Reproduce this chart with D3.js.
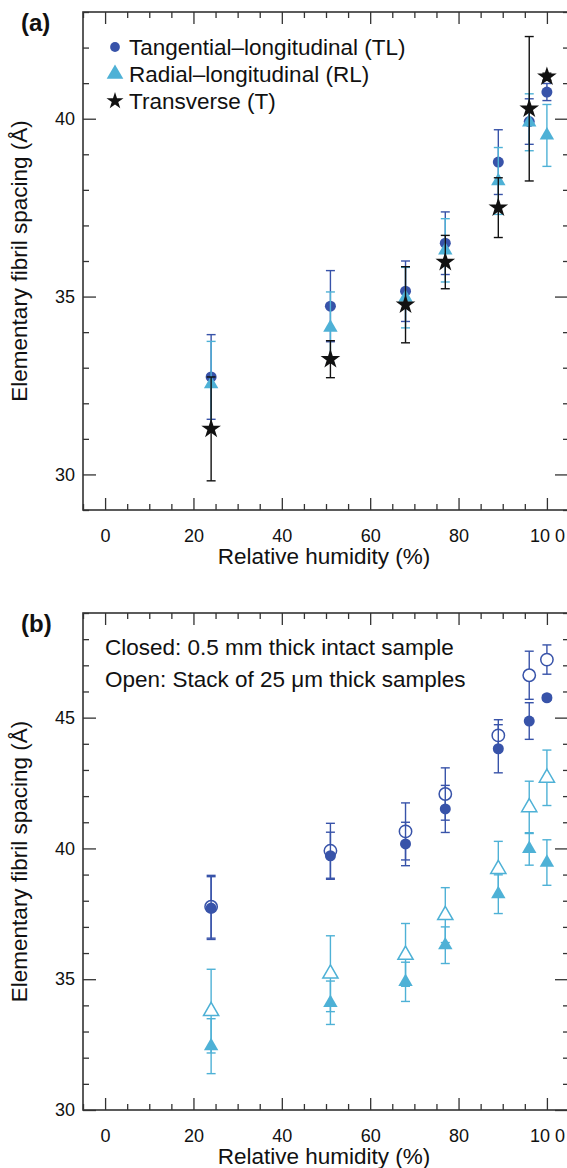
<!DOCTYPE html>
<html>
<head>
<meta charset="utf-8">
<script src="https://cdn.jsdelivr.net/npm/d3@7"></script>
<style>
  body { margin: 0; background: #fff; }
  svg { display: block; font-family: "Liberation Sans", Arial, sans-serif; }
</style>
</head>
<body>
<svg id="fig" width="567" height="1168"></svg>
<script>
// relative humidity (%) of each measurement
var rh = [24, 51, 68, 77, 89, 96, 100];

// panel (a): spacing (Angstrom) and error
var tlA    = [32.74, 34.73, 35.15, 36.50, 38.78, 39.92, 40.75];
var tlAErr = [1.19, 1.00, 0.85, 0.88, 0.91, 0.64, 0.24];
var rlA    = [32.54, 34.13, 34.97, 36.30, 38.25, 39.90, 39.53];
var rlAErr = [1.20, 1.00, 0.85, 0.89, 0.94, 0.80, 0.87];
var tA     = [31.28, 33.24, 34.77, 35.97, 37.50, 40.28, 41.18];
var tAErr  = [1.46, 0.52, 1.07, 0.75, 0.84, 2.03, 0.10];

// panel (b): closed = 0.5 mm intact, open = stack of 25 um samples
var tlClosed    = [37.72, 39.72, 40.17, 41.51, 43.81, 44.87, 45.76];
var tlClosedErr = [1.20, 0.90, 0.83, 0.90, 0.92, 0.70, 0.10];
var tlOpen      = [37.77, 39.91, 40.65, 42.08, 44.32, 46.62, 47.22];
var tlOpenErr   = [1.20, 1.05, 1.09, 1.00, 0.60, 0.92, 0.56];
var rlClosed    = [32.44, 34.10, 34.90, 36.30, 38.25, 39.98, 39.46];
var rlClosedErr = [1.05, 0.83, 0.75, 0.70, 0.74, 0.62, 0.87];
var rlOpen      = [33.78, 35.21, 35.93, 37.45, 39.21, 41.57, 42.70];
var rlOpenErr   = [1.60, 1.45, 1.20, 1.05, 1.06, 1.00, 1.06];

var xTicks = [0, 20, 40, 60, 80, 100];
var xTickLabels = ["0", "20", "40", "60", "80", "10 0"];
var yTicksA = [30, 35, 40];
var yTicksB = [30, 35, 40, 45];

var TL_COL = "#3853a9";
var RL_COL = "#4eb1d6";
var T_COL = "#111";
var AX_COL = "#333";

var svg = d3.select("#fig");
svg.append("rect").attr("width", 567).attr("height", 1168).attr("fill", "#fff");

var LEFT = 83, RIGHT = 569;
var x = d3.scaleLinear().domain([-5, 105]).range([LEFT, RIGHT]);

function panel(top, bottom, yDom, yTicks, label) {
    var y = d3.scaleLinear().domain(yDom).range([bottom, top]);
    var g = svg.append("g");
    var minorX = d3.range(-5, 106, 5).filter(function(v) { return v % 20 != 0; });
    var minorY = d3.range(yDom[0], yDom[1] + 1, 1).filter(function(v) { return v % 5 != 0; });

    function ax(gen, tr, vals, size, fmt) {
        g.append("g")
            .attr("transform", tr)
            .call(gen.tickValues(vals).tickSizeInner(size).tickSizeOuter(0).tickPadding(8).tickFormat(fmt))
            .call(function(s) { s.select(".domain").remove(); })
            .call(function(s) { s.selectAll("line").attr("stroke", AX_COL).attr("stroke-width", 1.3); })
            .call(function(s) { s.selectAll("text").attr("fill", "#111").style("font-size", "18px").style("font-family", "Liberation Sans, Arial, sans-serif"); });
    }
    var none = function() { return ""; };
    ax(d3.axisBottom(x), "translate(0," + bottom + ")", xTicks, -12, function(d, i) { return xTickLabels[i]; });
    ax(d3.axisBottom(x), "translate(0," + bottom + ")", minorX, -6, none);
    ax(d3.axisTop(x), "translate(0," + top + ")", xTicks, -12, none);
    ax(d3.axisTop(x), "translate(0," + top + ")", minorX, -6, none);
    ax(d3.axisLeft(y), "translate(" + LEFT + ",0)", yTicks, -13, function(d) { return d; });
    ax(d3.axisLeft(y), "translate(" + LEFT + ",0)", minorY, -6, none);
    ax(d3.axisRight(y), "translate(" + RIGHT + ",0)", yTicks, -14, none);
    ax(d3.axisRight(y), "translate(" + RIGHT + ",0)", minorY, -6, none);

    // bottom axis labels sit below the frame
    g.selectAll("text").filter(function() { return this.parentNode.parentNode.getAttribute("transform") == "translate(0," + bottom + ")"; })
        .attr("y", 19).attr("dy", "0.71em");

    g.append("rect")
        .attr("x", LEFT).attr("y", top)
        .attr("width", RIGHT - LEFT).attr("height", bottom - top)
        .attr("fill", "none").attr("stroke", AX_COL).attr("stroke-width", 1.6);

    svg.append("text")
        .attr("x", (LEFT + RIGHT) / 2 - 2).attr("y", bottom + 54)
        .attr("text-anchor", "middle").style("font-size", "22.5px").attr("fill", "#111")
        .text("Relative humidity (%)");

    svg.append("text")
        .attr("transform", "rotate(-90)")
        .attr("x", -(top + bottom) / 2).attr("y", 27)
        .attr("text-anchor", "middle").style("font-size", "22.5px").attr("fill", "#111")
        .text("Elementary fibril spacing (Å)");

    svg.append("text")
        .attr("x", 21).attr("y", top + 19)
        .style("font-size", "24px").style("font-weight", "bold").attr("fill", "#111")
        .text(label);
    return y;
}

function errBars(y, vals, errs, col) {
    var g = svg.append("g").attr("stroke", col).attr("stroke-width", 1.4);
    rh.forEach(function(r, i) {
        var cx = x(r), y0 = y(vals[i] - errs[i]), y1 = y(vals[i] + errs[i]);
        g.append("line").attr("x1", cx).attr("x2", cx).attr("y1", y0).attr("y2", y1);
        g.append("line").attr("x1", cx - 4.5).attr("x2", cx + 4.5).attr("y1", y0).attr("y2", y0);
        g.append("line").attr("x1", cx - 4.5).attr("x2", cx + 4.5).attr("y1", y1).attr("y2", y1);
    });
}

function marks(y, vals, type, size, fill, stroke) {
    svg.append("g").selectAll("path")
        .data(vals)
        .enter()
        .append("path")
        .attr("transform", function(d, i) { return "translate(" + x(rh[i]) + "," + y(d) + ")"; })
        .attr("d", d3.symbol(type, size))
        .attr("fill", fill)
        .attr("stroke", stroke)
        .attr("stroke-width", 1.5);
}

// ---- panel (a)
var yA = panel(12, 510, [29, 43], yTicksA, "(a)");
errBars(yA, tlA, tlAErr, TL_COL);
marks(yA, tlA, d3.symbolCircle, 95, TL_COL, "none");
errBars(yA, rlA, rlAErr, RL_COL);
marks(yA, rlA, d3.symbolTriangle, 90, RL_COL, "none");
errBars(yA, tA, tAErr, T_COL);
marks(yA, tA, d3.symbolStar, 120, T_COL, "none");

var legA = [
    { name: "Tangential–longitudinal (TL)", type: d3.symbolCircle, size: 75, col: TL_COL },
    { name: "Radial–longitudinal (RL)", type: d3.symbolTriangle, size: 120, col: RL_COL },
    { name: "Transverse (T)", type: d3.symbolStar, size: 90, col: T_COL }
];
legA.forEach(function(d, i) {
    svg.append("path")
        .attr("transform", "translate(115," + (47 + i * 27) + ")")
        .attr("d", d3.symbol(d.type, d.size))
        .attr("fill", d.col);
    svg.append("text")
        .attr("x", 129).attr("y", 55 + i * 27)
        .style("font-size", "22.5px").attr("fill", "#111")
        .text(d.name);
});

// ---- panel (b)
var yB = panel(613, 1110, [30, 49], yTicksB, "(b)");
errBars(yB, rlOpen, rlOpenErr, RL_COL);
marks(yB, rlOpen, d3.symbolTriangle, 100, "#fff", RL_COL);
errBars(yB, rlClosed, rlClosedErr, RL_COL);
marks(yB, rlClosed, d3.symbolTriangle, 90, RL_COL, "none");
errBars(yB, tlOpen, tlOpenErr, TL_COL);
marks(yB, tlOpen, d3.symbolCircle, 120, "#fff", TL_COL);
errBars(yB, tlClosed, tlClosedErr, TL_COL);
marks(yB, tlClosed, d3.symbolCircle, 95, TL_COL, "none");

svg.append("text").attr("x", 105).attr("y", 655)
    .style("font-size", "22.5px").attr("fill", "#111")
    .text("Closed: 0.5 mm thick intact sample");
svg.append("text").attr("x", 105).attr("y", 687)
    .style("font-size", "22.5px").attr("fill", "#111")
    .text("Open: Stack of 25 μm thick samples");
</script>
</body>
</html>
